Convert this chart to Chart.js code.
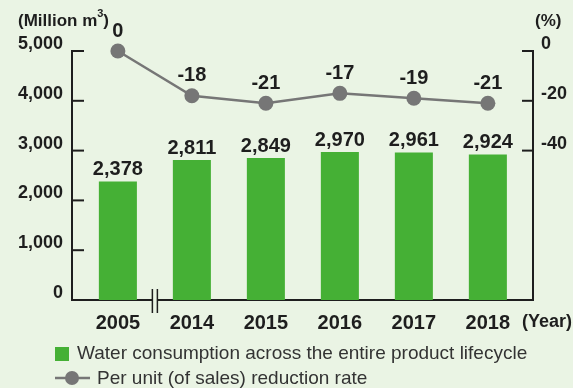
<!DOCTYPE html>
<html>
<head>
<meta charset="utf-8">
<script src="https://cdn.jsdelivr.net/npm/chart.js@4.4.1/dist/chart.umd.min.js"></script>
<style>
  html, body { margin: 0; padding: 0; background: #eaf4e4; }
  #wrap { width: 573px; height: 388px; position: relative; }
</style>
</head>
<body>
<div id="wrap"><canvas id="chart" width="573" height="388"></canvas></div>
<script>
const years = ['2005', '2014', '2015', '2016', '2017', '2018']
const water = [2378, 2811, 2849, 2970, 2961, 2924]
const reduction = [0, -18, -21, -17, -19, -21]
const leftTicks = [0, 1000, 2000, 3000, 4000, 5000]
const rightTicks = [0, -20, -40]

const bg = '#eaf4e4'
const ink = '#1e1e1e'
const green = '#45b035'
const gray = '#767676'
const font = '"Liberation Sans", Arial, sans-serif'

// bars and line sit on a linear x scale so the plot can have extra room at both ends
const barData = water.map((v, i) => ({x: i, y: v}))
const lineData = reduction.map((v, i) => ({x: i, y: v}))

const extras = {
    id: 'extras',
    beforeDraw(chart) {
        const ctx = chart.ctx
        ctx.save()
        ctx.fillStyle = bg
        ctx.fillRect(0, 0, chart.width, chart.height)
        ctx.restore()
    },
    afterDraw(chart) {
        const ctx = chart.ctx
        const area = chart.chartArea
        const sx = chart.scales.x, sy = chart.scales.y, sy1 = chart.scales.y1
        ctx.save()

        // inward tick marks
        ctx.strokeStyle = ink
        ctx.lineWidth = 2
        leftTicks.forEach(v => {
            const y = sy.getPixelForValue(v)
            ctx.beginPath(); ctx.moveTo(area.left, y); ctx.lineTo(area.left + 12, y); ctx.stroke()
        })
        rightTicks.forEach(v => {
            const y = sy1.getPixelForValue(v)
            ctx.beginPath(); ctx.moveTo(area.right - 11, y); ctx.lineTo(area.right, y); ctx.stroke()
        })

        // axis break between 2005 and 2014
        const bx = sx.getPixelForValue(0.5)
        ctx.fillStyle = bg
        ctx.fillRect(bx - 2.5, area.bottom - 3, 5, 6)
        ctx.lineWidth = 1.5
        ;[bx - 2.5, bx + 2.5].forEach(x => {
            ctx.beginPath(); ctx.moveTo(x, area.bottom - 11); ctx.lineTo(x, area.bottom + 13); ctx.stroke()
        })

        // value labels
        ctx.fillStyle = ink
        ctx.font = 'bold 20px ' + font
        ctx.textAlign = 'center'
        ctx.textBaseline = 'middle'
        chart.getDatasetMeta(0).data.forEach((el, i) => {
            ctx.fillText(water[i].toLocaleString('en-US'), el.x, el.y - 12)
        })
        chart.getDatasetMeta(1).data.forEach((el, i) => {
            ctx.fillText(String(reduction[i]), el.x, el.y - 20)
        })

        // axis titles
        ctx.font = 'bold 17px ' + font
        ctx.textAlign = 'left'
        ctx.fillText('(Million m', 18, 21)
        const w = ctx.measureText('(Million m').width
        ctx.font = 'bold 11px ' + font
        ctx.fillText('3', 18 + w, 14)
        ctx.font = 'bold 17px ' + font
        ctx.fillText(')', 18 + w + 6, 21)
        ctx.fillText('(%)', 535, 21)
        ctx.font = 'bold 18px ' + font
        ctx.fillText('(Year)', 522, 322)

        // legend
        ctx.fillStyle = green
        ctx.fillRect(55, 347, 14, 14)
        ctx.strokeStyle = gray
        ctx.lineWidth = 2.5
        ctx.beginPath(); ctx.moveTo(55, 378); ctx.lineTo(90, 378); ctx.stroke()
        ctx.fillStyle = gray
        ctx.beginPath(); ctx.arc(72, 378, 7, 0, Math.PI * 2); ctx.fill()
        ctx.fillStyle = '#333'
        ctx.font = '19px ' + font
        ctx.fillText('Water consumption across the entire product lifecycle', 77, 354)
        ctx.fillText('Per unit (of sales) reduction rate', 97, 379)
        ctx.restore()
    }
}

new Chart(document.getElementById('chart'), {
    data: {
        datasets: [{
            type: 'bar',
            data: barData,
            backgroundColor: green,
            categoryPercentage: 1,
            barPercentage: 0.514,
            yAxisID: 'y',
            order: 2
        }, {
            type: 'line',
            data: lineData,
            borderColor: gray,
            borderWidth: 2.5,
            pointRadius: 7.5,
            pointBackgroundColor: gray,
            pointBorderWidth: 0,
            clip: false,
            yAxisID: 'y1',
            order: 1
        }]
    },
    options: {
        responsive: false,
        animation: false,
        layout: {padding: {top: 51, left: 0, right: 0, bottom: 0}},
        plugins: {legend: {display: false}, tooltip: {enabled: false}},
        scales: {
            x: {
                type: 'linear',
                offset: false,
                min: -0.62,
                max: 5.61,
                grid: {display: false, drawTicks: false},
                border: {display: true, color: ink, width: 2},
                afterBuildTicks: axis => { axis.ticks = years.map((_, i) => ({value: i})) },
                afterFit: s => { s.height = 88 },
                ticks: {
                    padding: 11,
                    color: ink,
                    font: {family: font, size: 20, weight: 'bold'},
                    callback: v => years[v]
                }
            },
            y: {
                position: 'left',
                min: 0,
                max: 5000,
                grid: {display: false, drawTicks: false},
                border: {display: true, color: ink, width: 2},
                afterBuildTicks: axis => { axis.ticks = leftTicks.map(v => ({value: v})) },
                afterFit: s => { s.width = 72 },
                ticks: {
                    padding: 9,
                    labelOffset: -7,
                    color: ink,
                    font: {family: font, size: 18, weight: 'bold'},
                    callback: v => v.toLocaleString('en-US')
                }
            },
            y1: {
                position: 'right',
                min: -100,
                max: 0,
                grid: {display: false, drawTicks: false},
                border: {display: true, color: ink, width: 2},
                afterBuildTicks: axis => { axis.ticks = rightTicks.map(v => ({value: v})) },
                afterFit: s => { s.width = 40 },
                ticks: {
                    padding: 8,
                    labelOffset: -7,
                    color: ink,
                    font: {family: font, size: 18, weight: 'bold'},
                    callback: v => String(v)
                }
            }
        }
    },
    plugins: [extras]
})
</script>
</body>
</html>
